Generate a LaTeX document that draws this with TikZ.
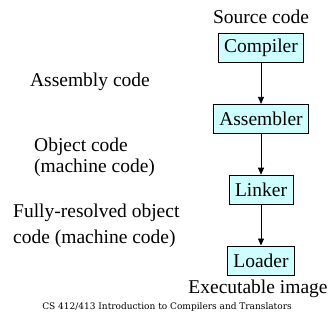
\documentclass[tikz,border=0pt]{standalone}
\usepackage{fontspec}
\setmainfont{Liberation Serif}
\newfontfamily\footfont{DejaVu Serif}
\usetikzlibrary{arrows.meta, positioning}
\definecolor{boxcyan}{RGB}{204,255,255}
\tikzset{
    stage/.style={rectangle, draw=black, fill=boxcyan, line width=0.8pt, inner xsep=6pt, minimum height=29pt, font=\fontsize{19.5}{21}\selectfont},
    codetext/.style={font=\fontsize{19.5}{21}\selectfont, inner sep=0pt},
    arrow/.style={-{Triangle[length=7pt, width=6pt]}, line width=0.8pt}
}
\begin{document}
\begin{tikzpicture}[x=1pt, y=-1pt, node distance=41pt]
        \useasboundingbox (0,0) rectangle (334,322);
        \node[stage] (compiler) at (261,48) {Compiler};
        \node[stage, below=of compiler] (assembler) {Assembler};
        \node[stage, below=of assembler] (linker) {Linker};
        \node[stage, below=of linker] (loader) {Loader};
        \draw[arrow] (compiler) -- (assembler);
        \draw[arrow] (assembler) -- (linker);
        \draw[arrow] (linker) -- (loader);
        \node[codetext] (source) at (261,17) {Source code};
        \node[codetext] (asmcode) at (90,82) {Assembly code};
        \node[codetext, anchor=west, align=left] (objcode) at (34,157) {Object code\\(machine code)};
        \node[codetext, anchor=west, align=left] (fullcode) at (13,226) {Fully-resolved object\\[5pt]code (machine code)};
        \node[codetext] (exeimage) at (258,289) {Executable image};
        \node[font=\footfont\fontsize{9}{10}\selectfont, inner sep=0pt] (footer) at (167,307) {CS 412/413 Introduction to Compilers and Translators};
\end{tikzpicture}
\end{document}
